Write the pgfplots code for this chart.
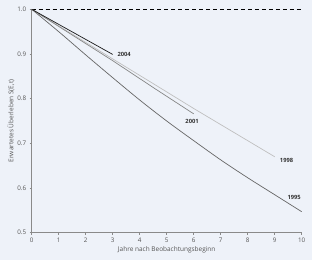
\documentclass[border=0pt]{standalone}
\usepackage{pgfplots}
\pgfplotsset{compat=1.18}
\usepackage{fontspec}
\setmainfont{Open Sans}
\definecolor{bg}{HTML}{EEF2F9}
\definecolor{axgray}{HTML}{8A8A8A}
\definecolor{lab}{HTML}{555555}
\begin{document}
\begin{tikzpicture}
\path[use as bounding box, fill=bg] (-31.7bp,-27.3bp) rectangle (280.3bp,232.7bp);
\begin{axis}[
  at={(0,0)}, anchor=south west,
  scale only axis, width=270bp, height=223.4bp,
  xmin=0, xmax=10, ymin=0.5, ymax=1.0,
  axis x line=bottom, axis y line=left,
  axis line style={axgray, -, line width=0.6pt},
  xtick={0,...,10}, ytick={0.5,0.6,0.7,0.8,0.9,1.0},
  yticklabel style={/pgf/number format/fixed,/pgf/number format/fixed zerofill,/pgf/number format/precision=1},
  tick align=outside, major tick length=2pt,
  tick style={axgray, line width=0.5pt},
  ticklabel style={font=\fontsize{6.3}{7}\selectfont, text=lab},
  /pgf/number format/assume math mode=true,
  xlabel={Jahre nach Beobachtungsbeginn},
  ylabel={Erwartetes Überleben S(E,t)},
  label style={font=\fontsize{6.5}{7}\selectfont, text=lab},
  xlabel style={yshift=3pt},
  ylabel style={yshift=-4pt},
  clip=false,
]
\addplot[black, dashed, dash pattern=on 4pt off 3pt, line width=0.8pt] coordinates {(0,1) (10,1)};
\addplot[color=black!60, line width=0.7pt, smooth] coordinates {
(0,1) (1,0.950) (2,0.898) (3,0.847) (4,0.797) (5,0.750) (6,0.706) (7,0.663) (8,0.623) (9,0.585) (10,0.547)};
\addplot[color=black!25, line width=0.7pt] coordinates {(0,1) (3,0.889) (4.6,0.830) (6,0.778) (9,0.670)};
\addplot[color=black!48, line width=0.7pt] coordinates {(0,1) (3,0.885) (4.6,0.821) (6,0.766)};
\addplot[color=black!90, line width=0.7pt] coordinates {(0,1) (3,0.899)};
\node[anchor=west, font=\fontsize{5.8}{6}\selectfont\bfseries, text=black!80] at (axis cs:3.05,0.898) {2004};
\node[font=\fontsize{5.8}{6}\selectfont\bfseries, text=black!80] at (axis cs:5.94,0.750) {2001};
\node[font=\fontsize{5.8}{6}\selectfont\bfseries, text=black!80] at (axis cs:9.44,0.661) {1998};
\node[font=\fontsize{5.8}{6}\selectfont\bfseries, text=black!80] at (axis cs:9.72,0.579) {1995};
\end{axis}
\end{tikzpicture}
\end{document}
